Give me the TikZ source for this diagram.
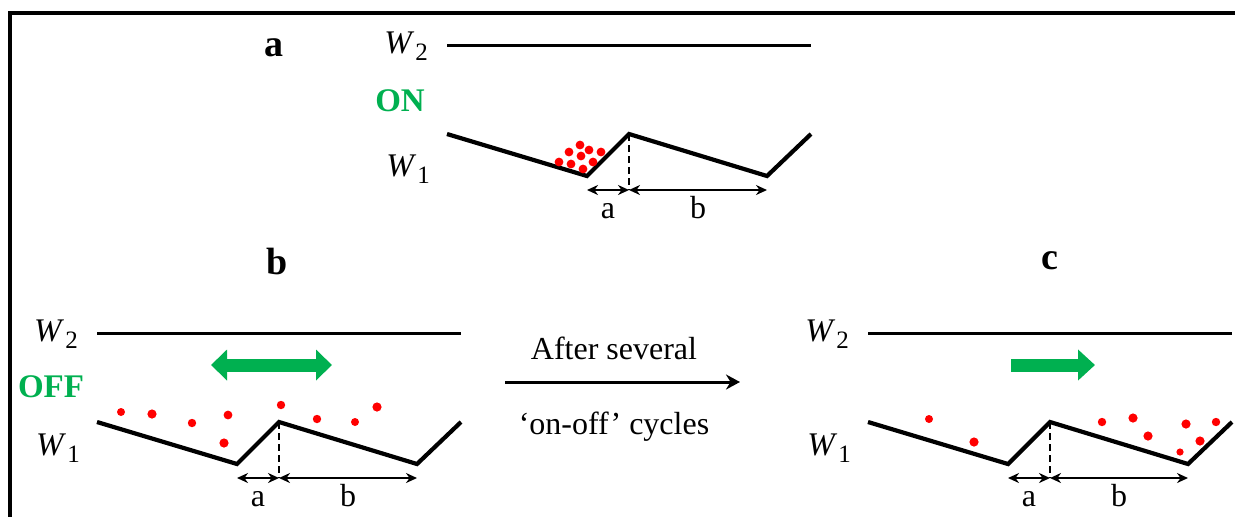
\documentclass[tikz,border=0pt]{standalone}
\usepackage{fontspec}
\setmainfont{Liberation Serif}
\usetikzlibrary{positioning,arrows.meta}
\definecolor{swgreen}{RGB}{0,176,80}
\definecolor{dotred}{RGB}{255,0,0}
\newcommand{\wall}[1]{{\fontsize{16.5}{18}\selectfont\textit{W}}\kern0.6pt\raisebox{-0.45ex}{\fontsize{12.5}{13}\selectfont #1}}

\begin{document}
\begin{tikzpicture}[x=0.5pt,y=-0.5pt,font=\fontsize{16}{19}\selectfont,
  wallline/.style={line width=2.1pt,line join=miter},
  dimarrow/.style={line width=1pt,{Stealth[length=5.5pt,width=5pt]}-{Stealth[length=5.5pt,width=5pt]}},
  bigarrow/.style={swgreen,line width=6.5pt},
  particle/.style={circle,fill=dotred,inner sep=0pt,minimum size=#1},
  particle/.default=4.4pt,
  tag/.style={font=\fontsize{19}{22}\selectfont\bfseries}]
  \useasboundingbox (0,0) rectangle (1235,516);
  \draw[line width=2pt] (10,520) -- (10,13) -- (1240,13);
  % three panels: same sawtooth W1 under a flat W2
  \foreach \p/\ox/\oy/\wy in {a/447/45/124, b/97/333/115, c/868/333/115} {
    \begin{scope}[shift={(\ox,\oy)}]
      \coordinate (l2\p) at (0,0);
      \coordinate (r2\p) at (364,0);
      \draw[line width=1.5pt] (l2\p) -- (r2\p);
      \coordinate (t0\p) at (0,89);
      \coordinate (v1\p) at (140,131);
      \coordinate (t1\p) at (182,89);
      \coordinate (v2\p) at (320,131);
      \coordinate (t2\p) at (364,89);
      \draw[wallline] (t0\p) -- (v1\p) -- (t1\p) -- (v2\p) -- (t2\p);
      \node[anchor=east] (w2\p) at (-12,1) {\wall{2}};
      \node[anchor=east] (w1\p) at (-10,\wy) {\wall{1}};
      \coordinate (da\p) at (140,145);
      \coordinate (dm\p) at (182,145);
      \coordinate (db\p) at (320,145);
      \draw[dash pattern=on 3.5pt off 2pt,line width=0.7pt] (t1\p) -- (dm\p);
      \draw[dimarrow] (da\p) -- (dm\p) node[midway,anchor=base,yshift=-14pt] (la\p) {a};
      \draw[dimarrow] (dm\p) -- (db\p) node[midway,anchor=base,yshift=-14pt] (lb\p) {b};
    \end{scope}
  }
  \node[tag] (taga) at (274,48) {a};
  \node[tag] (tagb) at (277,261) {b};
  \node[tag] (tagc) at (1050,261) {c};
  \node[tag,font=\fontsize{16.5}{19}\selectfont\bfseries,text=swgreen] (on) at (400,101) {ON};
  \node[tag,font=\fontsize{16.5}{19}\selectfont\bfseries,text=swgreen] (off) at (51,387) {OFF};
  % particles
  \foreach \x/\y in {580/145,569/152,589/150,601/152,581/156,559/162,571/164,593/162,583/169}
    \node[particle] at (\x,\y) {};
  \foreach \x/\y/\d in {121/412/4pt,152/414/4.6pt,192/423/4.2pt,228/415/4.4pt,224/443/4.6pt,
                        281/405/4.2pt,317/419/4.2pt,355/422/4pt,377/407/4.6pt}
    \node[particle=\d] at (\x,\y) {};
  \foreach \x/\y/\d in {929/419/4pt,974/442/4.6pt,1102/422/4.2pt,1133/418/4.6pt,1148/436/4.6pt,
                        1186/424/4.6pt,1216/422/4.2pt,1200/441/4.6pt,1180/452/3.6pt}
    \node[particle=\d] at (\x,\y) {};
  % shaking / drift arrows
  \coordinate (gbl) at (211,365);
  \coordinate (gbr) at (332,365);
  \draw[bigarrow,{Triangle[length=8pt,width=15pt]}-{Triangle[length=8pt,width=15pt]}] (gbl) -- (gbr);
  \coordinate (gcl) at (1011,365);
  \coordinate (gcr) at (1095,365);
  \draw[bigarrow,-{Triangle[length=8.5pt,width=15pt]}] (gcl) -- (gcr);
  % b -> c
  \coordinate (cyl) at (505,382);
  \coordinate (cyr) at (740,382);
  \draw[line width=1.5pt,-{Stealth[length=7pt,width=7.5pt]}] (cyl) -- (cyr);
  \node (cya) at (614,348) {After several};
  \node (cyb) at (614,427) {‘on-off’ cycles};
\end{tikzpicture}
\end{document}
